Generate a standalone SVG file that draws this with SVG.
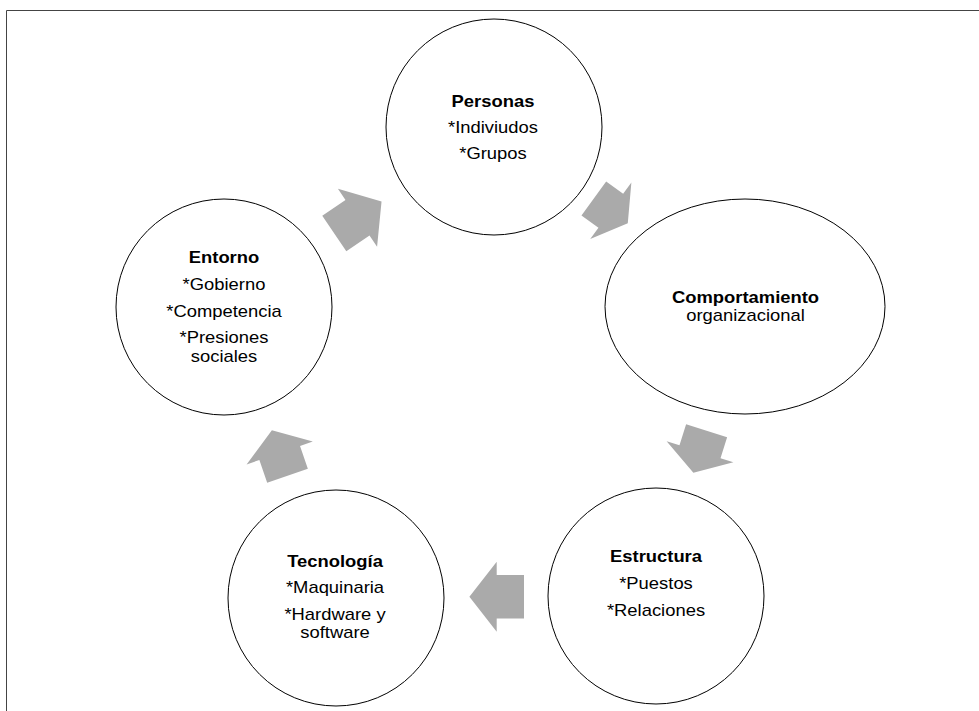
<svg xmlns="http://www.w3.org/2000/svg" width="979" height="711" viewBox="0 0 979 711">
<style>
.frame{fill:none;stroke:#444;stroke-width:1}
.node{fill:#fff;stroke:#000;stroke-width:1}
.arrow{fill:#aaaaaa;stroke:none}
text{font-family:"Liberation Sans",Arial,sans-serif;font-size:16px;fill:#000;text-anchor:middle}
.b{font-weight:bold}
</style>
<rect width="979" height="711" fill="#fff"/>
<path class="frame" d="M6.5,720 V10.5 H990"/>
<g id="connectors">
<polygon class="arrow" transform="translate(357.5,217.8) rotate(-34)" points="-28,-21.5 0,-21.5 0,-35 29,0 0,35 0,21.5 -28,21.5"/>
<polygon class="arrow" transform="translate(610.8,210.8) rotate(36)" points="-21,-21 0,-21 0,-35 21,0 0,35 0,21 -21,21"/>
<polygon class="arrow" transform="translate(700,451.7) rotate(107.5)" points="-22,-21.5 0,-21.5 0,-35 22,0 0,35 0,21.5 -22,21.5"/>
<polygon class="arrow" transform="translate(496.7,596.7) rotate(180)" points="-27.3,-21.7 0,-21.7 0,-35 27.3,0 0,35 0,21.7 -27.3,21.7"/>
<polygon class="arrow" transform="translate(279.7,453) rotate(-109)" points="-24,-21.5 0,-21.5 0,-35 24,0 0,35 0,21.5 -24,21.5"/>
</g>
<g id="personas">
<circle class="node" cx="494" cy="127" r="108"/>
<g transform="translate(493,0) scale(1.15,1)">
<text class="b" x="0" y="106.7">Personas</text>
<text x="0" y="133.3">*Indiviudos</text>
<text x="0" y="159.3">*Grupos</text>
</g>
</g>
<g id="comportamiento">
<ellipse class="node" cx="745" cy="306.5" rx="140" ry="107.5"/>
<g transform="translate(745.5,0) scale(1.15,1)">
<text class="b" x="0" y="302.7">Comportamiento</text>
<text x="0" y="320.7">organizacional</text>
</g>
</g>
<g id="estructura">
<circle class="node" cx="656" cy="596" r="108"/>
<g transform="translate(656,0) scale(1.15,1)">
<text class="b" x="0" y="561.7">Estructura</text>
<text x="0" y="589.3">*Puestos</text>
<text x="0" y="615.7">*Relaciones</text>
</g>
</g>
<g id="tecnologia">
<circle class="node" cx="336" cy="598" r="108"/>
<g transform="translate(335,0) scale(1.15,1)">
<text class="b" x="0" y="566.7">Tecnología</text>
<text x="0" y="593.3">*Maquinaria</text>
<text x="0" y="620">*Hardware y</text>
<text x="0" y="638.3">software</text>
</g>
</g>
<g id="entorno">
<circle class="node" cx="224" cy="307" r="108"/>
<g transform="translate(224,0) scale(1.15,1)">
<text class="b" x="0" y="263.3">Entorno</text>
<text x="0" y="290">*Gobierno</text>
<text x="0" y="316.7">*Competencia</text>
<text x="0" y="343.3">*Presiones</text>
<text x="0" y="361.7">sociales</text>
</g>
</g>
</svg>
